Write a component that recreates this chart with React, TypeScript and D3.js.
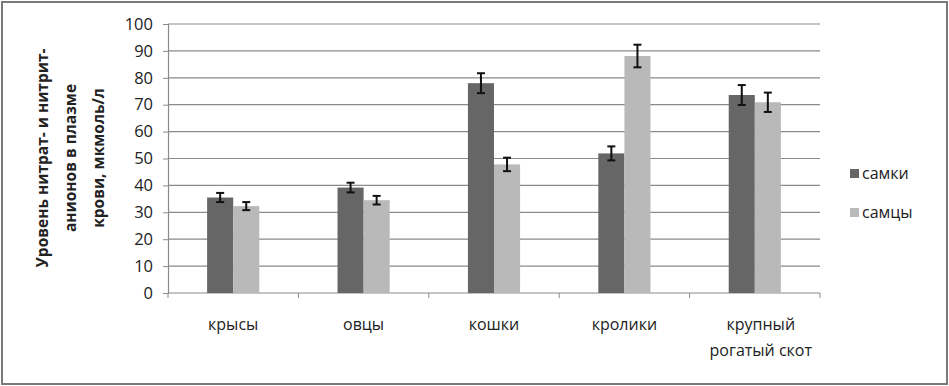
import { useEffect, useRef } from 'react';
import * as d3 from 'd3';

// categories and series
const categories = ['крысы', 'овцы', 'кошки', 'кролики', 'крупный\nрогатый скот'];
const seriesNames = ['самки', 'самцы'];
const females = [35.5, 39.2, 78.0, 51.9, 73.6];
const males = [32.3, 34.5, 47.8, 88.1, 70.9];
const femalesErr = [1.7, 1.8, 3.7, 2.6, 3.7];
const malesErr = [1.5, 1.6, 2.5, 4.2, 3.6];
const yTicks = [0, 10, 20, 30, 40, 50, 60, 70, 80, 90, 100];
const yTitle = ['Уровень нитрат- и нитрит-', 'анионов в плазме', 'крови, мкмоль/л'];

const colors = ['#666666', '#b9b9b9'];
const font = "'Open Sans', 'Noto Sans', sans-serif";

export default function App() {
  const ref = useRef<SVGSVGElement | null>(null);

  useEffect(() => {
    if (!ref.current) return;
    const svg = d3.select(ref.current);
    svg.selectAll('*').remove();

    const W = 949, H = 386;
    const left = 168, right = 820, top = 24, bottom = 293;

    // outer frame
    svg.append('rect')
      .attr('x', 2).attr('y', 2)
      .attr('width', W - 4).attr('height', H - 4)
      .attr('fill', '#fff').attr('stroke', '#7a7a7a').attr('stroke-width', 2);

    const x = d3.scaleBand<number>()
      .domain(d3.range(categories.length))
      .range([left, right]);
    const y = d3.scaleLinear().domain([0, 100]).range([bottom, top]);

    // gridlines
    svg.append('g').selectAll('line')
      .data(yTicks.filter(t => t > 0))
      .enter().append('line')
      .attr('x1', left).attr('x2', right)
      .attr('y1', d => y(d)).attr('y2', d => y(d))
      .attr('stroke', '#8a8a8a').attr('stroke-width', 1.2);

    // y axis
    const yAxis = svg.append('g')
      .attr('transform', `translate(${left},0)`)
      .call(d3.axisLeft(y).tickValues(yTicks).tickSize(5).tickPadding(10));
    yAxis.select('.domain').attr('stroke', '#8a8a8a').attr('stroke-width', 1.2);
    yAxis.selectAll('.tick line').attr('stroke', '#8a8a8a');
    yAxis.selectAll('.tick text')
      .attr('font-family', font).attr('font-size', 16.5).attr('fill', '#222');

    // x axis
    svg.append('line')
      .attr('x1', left).attr('x2', right)
      .attr('y1', bottom).attr('y2', bottom)
      .attr('stroke', '#8a8a8a').attr('stroke-width', 1.2);
    svg.append('g').selectAll('line')
      .data(d3.range(categories.length + 1))
      .enter().append('line')
      .attr('x1', d => left + d * x.step()).attr('x2', d => left + d * x.step())
      .attr('y1', bottom).attr('y2', bottom + 5)
      .attr('stroke', '#8a8a8a');

    // bars
    const groupW = x.bandwidth() * 0.4;
    const sub = d3.scaleBand<number>().domain([0, 1]).range([0, groupW]);
    const series = [females, males];
    const errs = [femalesErr, malesErr];

    series.forEach((vals, s) => {
      const g = svg.append('g');
      g.selectAll('rect')
        .data(vals)
        .enter().append('rect')
        .attr('x', (_, i) => x(i)! + (x.bandwidth() - groupW) / 2 + sub(s)!)
        .attr('y', d => y(d))
        .attr('width', sub.bandwidth())
        .attr('height', d => bottom - y(d))
        .attr('fill', colors[s]);

      // error bars
      const eg = svg.append('g').attr('stroke', '#111').attr('stroke-width', 2);
      vals.forEach((v, i) => {
        const cx = x(i)! + (x.bandwidth() - groupW) / 2 + sub(s)! + sub.bandwidth() / 2;
        const e = errs[s][i];
        eg.append('line').attr('x1', cx).attr('x2', cx).attr('y1', y(v + e)).attr('y2', y(v - e));
        eg.append('line').attr('x1', cx - 4).attr('x2', cx + 4).attr('y1', y(v + e)).attr('y2', y(v + e));
        eg.append('line').attr('x1', cx - 4).attr('x2', cx + 4).attr('y1', y(v - e)).attr('y2', y(v - e));
      });
    });

    // category labels
    categories.forEach((c, i) => {
      const multi = c.includes('\n');
      const t = svg.append('text')
        .attr('y', 330)
        .attr('text-anchor', 'middle')
        .attr('font-family', font).attr('font-size', 16).attr('fill', '#222');
      c.split('\n').forEach((line, k) => {
        t.append('tspan')
          .attr('x', x(i)! + x.bandwidth() / 2 + (multi ? 6 : 0))
          .attr('dy', k === 0 ? 0 : 26)
          .text(line);
      });
    });

    // y title
    const tt = svg.append('text')
      .attr('transform', 'translate(70,158) rotate(-90)')
      .attr('text-anchor', 'middle')
      .attr('font-family', font).attr('font-size', 15.5).attr('font-weight', 'bold').attr('fill', '#222');
    yTitle.forEach((line, k) => {
      tt.append('tspan').attr('x', 0).attr('y', -22 + k * 28).text(line);
    });

    // legend
    seriesNames.forEach((n, s) => {
      const ly = 174 + s * 39;
      svg.append('rect')
        .attr('x', 850).attr('y', ly - 5)
        .attr('width', 9).attr('height', 9)
        .attr('fill', colors[s]);
      svg.append('text')
        .attr('x', 862).attr('y', ly + 5)
        .attr('font-family', font).attr('font-size', 16).attr('fill', '#222')
        .text(n);
    });
  }, []);

  return (
    <svg
      ref={ref}
      width={949}
      height={386}
      style={{ display: 'block', position: 'absolute', left: 0, top: 0 }}
    />
  );
}
